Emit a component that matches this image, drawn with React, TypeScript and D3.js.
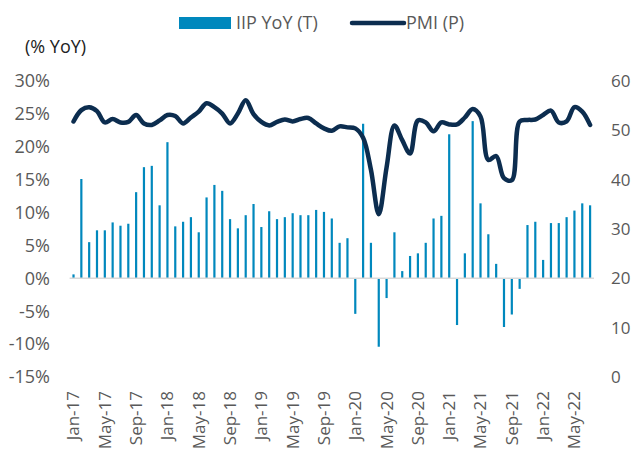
import React, { useEffect, useRef } from 'react'
import * as d3 from 'd3'

const months = [
  'Jan-17', 'Feb-17', 'Mar-17', 'Apr-17', 'May-17', 'Jun-17', 'Jul-17', 'Aug-17', 'Sep-17', 'Oct-17', 'Nov-17', 'Dec-17',
  'Jan-18', 'Feb-18', 'Mar-18', 'Apr-18', 'May-18', 'Jun-18', 'Jul-18', 'Aug-18', 'Sep-18', 'Oct-18', 'Nov-18', 'Dec-18',
  'Jan-19', 'Feb-19', 'Mar-19', 'Apr-19', 'May-19', 'Jun-19', 'Jul-19', 'Aug-19', 'Sep-19', 'Oct-19', 'Nov-19', 'Dec-19',
  'Jan-20', 'Feb-20', 'Mar-20', 'Apr-20', 'May-20', 'Jun-20', 'Jul-20', 'Aug-20', 'Sep-20', 'Oct-20', 'Nov-20', 'Dec-20',
  'Jan-21', 'Feb-21', 'Mar-21', 'Apr-21', 'May-21', 'Jun-21', 'Jul-21', 'Aug-21', 'Sep-21', 'Oct-21', 'Nov-21', 'Dec-21',
  'Jan-22', 'Feb-22', 'Mar-22', 'Apr-22', 'May-22', 'Jun-22', 'Jul-22',
]

// IIP YoY, % (left axis)
const iipYoY = [
  0.6, 15.1, 5.5, 7.3, 7.3, 8.5, 8.0, 8.3, 13.1, 16.9, 17.1, 11.1,
  20.7, 7.9, 8.6, 9.3, 7.0, 12.3, 14.2, 13.3, 9.0, 7.6, 9.6, 11.3,
  7.8, 10.2, 9.0, 9.3, 9.9, 9.6, 9.6, 10.4, 10.1, 9.1, 5.4, 6.1,
  -5.4, 23.5, 5.4, -10.4, -3.0, 7.0, 1.1, 3.4, 3.8, 5.4, 9.1, 9.5,
  21.9, -7.1, 3.8, 23.9, 11.4, 6.7, 2.2, -7.4, -5.5, -1.6, 8.1, 8.6,
  2.8, 8.4, 8.4, 9.3, 10.3, 11.4, 11.1,
]

// PMI (right axis)
const pmi = [
  51.8, 54.1, 54.7, 53.9, 51.6, 52.3, 51.6, 51.7, 53.1, 51.4, 51.1, 52.0,
  53.1, 52.9, 51.4, 52.6, 53.8, 55.5, 54.7, 53.4, 51.4, 53.4, 56.1, 53.3,
  51.7, 51.0, 51.7, 52.2, 51.8, 52.3, 52.5, 51.4, 50.4, 49.9, 50.8, 50.6,
  50.4, 48.5, 42.0, 33.0, 42.5, 51.0, 48.0, 45.3, 52.0, 51.6, 49.8, 51.6,
  51.2, 51.2, 52.6, 54.3, 52.8, 44.0, 44.8, 40.3, 39.9, 51.8, 52.1, 52.2,
  53.1, 54.0, 51.6, 51.8, 54.7, 53.8, 51.1,
]

const leftTicks = [-15, -10, -5, 0, 5, 10, 15, 20, 25, 30]
const rightTicks = [0, 10, 20, 30, 40, 50, 60]
const xTickLabels = months.filter((_, i) => i % 4 === 0)

const BAR_COLOR = '#0088bd'
const LINE_COLOR = '#0c2d4f'
const TEXT_COLOR = '#595959'
const FONT = '"Open Sans", "Noto Sans", sans-serif'
const FS = '18px'
const FS_SMALL = '17px'

export default function App() {
  const svgRef = useRef<SVGSVGElement>(null)

  useEffect(() => {
    if (!svgRef.current) return
    const svg = d3.select(svgRef.current)
    svg.selectAll('*').remove()

    const x = d3.scaleBand().domain(months).range([69.6, 594]).padding(0)
    const yL = d3.scaleLinear().domain([-15, 30]).range([377, 81])
    const yR = d3.scaleLinear().domain([0, 60]).range([377, 81])
    const cx = (m: string) => (x(m) || 0) + x.bandwidth() / 2
    const barW = 2.2

    // legend
    svg.append('rect')
      .attr('x', 179).attr('y', 17).attr('width', 52).attr('height', 12)
      .attr('fill', BAR_COLOR)
    svg.append('text')
      .attr('x', 236).attr('y', 23).attr('dy', '0.35em')
      .style('font-family', FONT).style('font-size', FS).style('fill', TEXT_COLOR)
      .text('IIP YoY (T)')
    svg.append('line')
      .attr('x1', 352).attr('x2', 404).attr('y1', 23).attr('y2', 23)
      .attr('stroke', LINE_COLOR).attr('stroke-width', 4.5).attr('stroke-linecap', 'round')
    svg.append('text')
      .attr('x', 406).attr('y', 23).attr('dy', '0.35em')
      .style('font-family', FONT).style('font-size', FS).style('fill', TEXT_COLOR)
      .text('PMI (P)')

    // axis title
    svg.append('text')
      .attr('x', 25).attr('y', 47).attr('dy', '0.35em')
      .style('font-family', FONT).style('font-size', FS).style('fill', '#222')
      .text('(% YoY)')

    // left tick labels
    svg.append('g')
      .selectAll('text')
      .data(leftTicks)
      .join('text')
      .attr('x', 50)
      .attr('y', (d) => yL(d))
      .attr('dy', '0.35em')
      .attr('text-anchor', 'end')
      .style('font-family', FONT).style('font-size', FS).style('fill', TEXT_COLOR)
      .text((d) => `${d}%`)

    // right tick labels
    svg.append('g')
      .selectAll('text')
      .data(rightTicks)
      .join('text')
      .attr('x', 611)
      .attr('y', (d) => yR(d))
      .attr('dy', '0.35em')
      .style('font-family', FONT).style('font-size', FS_SMALL).style('fill', TEXT_COLOR)
      .text((d) => d)

    // x labels
    svg.append('g')
      .selectAll('text')
      .data(xTickLabels)
      .join('text')
      .attr('transform', (d) => `translate(${cx(d)},391) rotate(-90)`)
      .attr('dy', '0.35em')
      .attr('text-anchor', 'end')
      .style('font-family', FONT).style('font-size', FS_SMALL).style('fill', TEXT_COLOR)
      .text((d) => d)

    // bars
    svg.append('g')
      .selectAll('rect')
      .data(iipYoY)
      .join('rect')
      .attr('x', (_, i) => cx(months[i]) - barW / 2)
      .attr('y', (d) => Math.min(yL(d), yL(0)))
      .attr('width', barW)
      .attr('height', (d) => Math.abs(yL(d) - yL(0)))
      .attr('fill', BAR_COLOR)

    // zero line
    svg.append('line')
      .attr('x1', x.range()[0]).attr('x2', x.range()[1])
      .attr('y1', yL(0)).attr('y2', yL(0))
      .attr('stroke', '#d9d9d9').attr('stroke-width', 1.5)

    // PMI line
    const line = d3.line<number>()
      .x((_, i) => cx(months[i]))
      .y((d) => yR(d))
      .curve(d3.curveCatmullRom.alpha(0.5))

    svg.append('path')
      .datum(pmi)
      .attr('d', line)
      .attr('fill', 'none')
      .attr('stroke', LINE_COLOR)
      .attr('stroke-width', 4.5)
      .attr('stroke-linejoin', 'round')
      .attr('stroke-linecap', 'round')
  }, [])

  return (
    <svg
      ref={svgRef}
      width={632}
      height={450}
      style={{ position: 'absolute', left: 0, top: 0, background: '#fff' }}
    />
  )
}
